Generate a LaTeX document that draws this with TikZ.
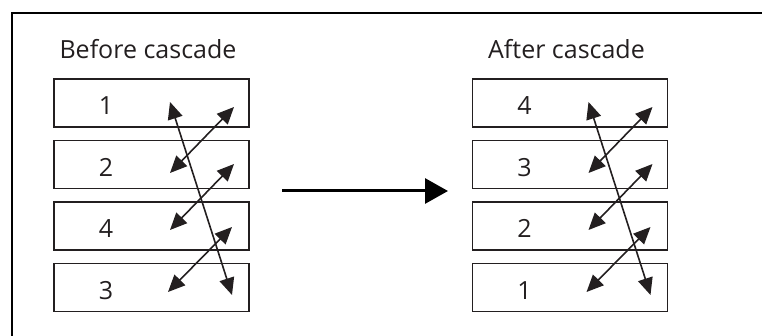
\documentclass[tikz,border=0pt]{standalone}
\usepackage{fontspec}
\setmainfont{Open Sans}
\usetikzlibrary{arrows.meta}
\definecolor{ink}{HTML}{231F20}

\begin{document}
\begin{tikzpicture}[x=1pt, y=-1pt,
  every node/.style = {font=\fontsize{25}{30}\selectfont, text=ink},
  stackbox/.style = {draw=ink, line width=1.8pt, minimum width=195pt,
    minimum height=48pt, inner sep=0pt},
  swaparrow/.style = {draw=ink, line width=1.6pt,
    {Triangle[length=17pt,width=15pt]}-{Triangle[length=17pt,width=15pt]}}]
  \useasboundingbox (0,0) rectangle (762,336);
  % frame
  \draw[line width=2pt] (12,336) -- (12,13) -- (762,13);
  % the two stacks
  \foreach \col/\dx/\title/\labels in {before/0/Before cascade/{1,2,4,3},
                                      after/418.5/After cascade/{4,3,2,1}} {
    \node[anchor=base] (\col-title) at (\dx+148,58.5) {\title};
    \foreach \n [count=\i, evaluate=\i as \y using 41.5+61.5*\i] in \labels {
      \node[stackbox] (\col-\i) at (\dx+151.5,\y) {};
      \node[anchor=base] (\col-n\i) at (\dx+106,\y+12) {\n};
    }
    \foreach \k/\xa/\ya/\xb/\yb in {0/170/102/232/295, 1/234/107/170/173,
                                    2/234/164/170/230, 3/232/227/168/292} {
      \coordinate (\col-s\k) at (\dx+\xa,\ya);
      \coordinate (\col-e\k) at (\dx+\xb,\yb);
      \draw[swaparrow] (\col-s\k) -- (\col-e\k);
    }
  }
  % cascade arrow
  \coordinate (go-start) at (282,191);
  \coordinate (go-end) at (448,191);
  \draw[line width=3pt, -{Triangle[length=23pt,width=25pt]}] (go-start) -- (go-end);
\end{tikzpicture}
\end{document}
